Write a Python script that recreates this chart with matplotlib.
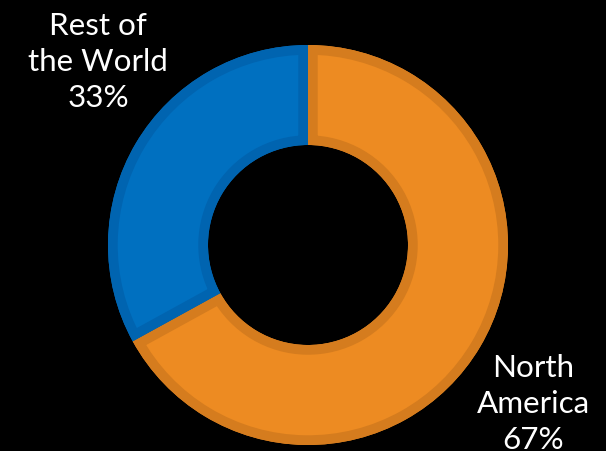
import matplotlib.pyplot as plt
from matplotlib.patches import Wedge

# datos del gráfico
regiones = ["North\nAmerica", "Rest of\nthe World"]
porcentajes = [67, 33]
colores = ["#ED8B22", "#0070C0"]
bordes = ["#D57C1E", "#0064B0"]

fig = plt.figure(figsize=(6.06, 4.51), dpi=100, facecolor="black")
ax = fig.add_axes([0, 0, 1, 1])
ax.set_facecolor("black")

wedges, _ = ax.pie(porcentajes, colors=colores, startangle=90, counterclock=False,
                   radius=200, center=(308, 206), frame=True,
                   wedgeprops=dict(width=100, linewidth=0))

# borde interior más oscuro (copia de cada cuña recortada a la original)
for w, c in zip(wedges, bordes):
    borde = Wedge(w.center, w.r, w.theta1, w.theta2, width=w.width,
                  facecolor="none", edgecolor=c, linewidth=14)
    ax.add_patch(borde)
    borde.set_clip_path(w)

ax.set_xlim(0, 606)
ax.set_ylim(0, 451)
ax.set_aspect("equal")
ax.axis("off")

fuente = dict(color="white", fontsize=22.6, family=["Lato", "DejaVu Sans"],
              ha="center", va="center", linespacing=1.34)
ax.text(98, 451 - 62, f"{regiones[1]}\n{porcentajes[1]}%", **fuente)
ax.text(533, 451 - 404, f"{regiones[0]}\n{porcentajes[0]}%", **fuente)

fig.savefig("out.png", facecolor="black")
